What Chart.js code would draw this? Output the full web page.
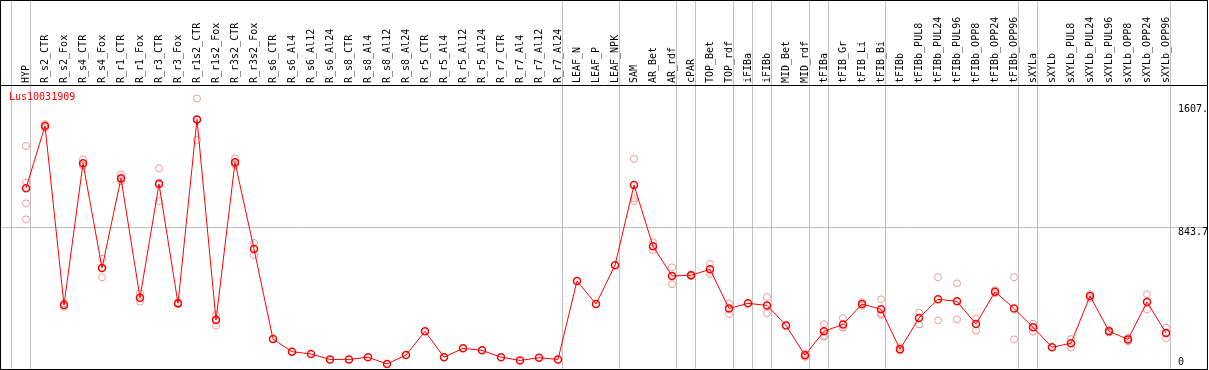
<!DOCTYPE html>
<html>
<head>
<meta charset="utf-8">
<script src="https://cdn.jsdelivr.net/npm/chart.js@4.4.1/dist/chart.umd.min.js"></script>
<style>
  html, body { margin: 0; padding: 0; background: #fff; }
  #frame { position: absolute; left: 0; top: 0; width: 1206px; height: 368px; border: 1px solid #000; }
  canvas { display: block; }
</style>
</head>
<body>
<div id="frame"><canvas id="geneChart" width="1206" height="368"></canvas></div>
<script>
const geneName = 'Lus10031909';

const xLabels = ['HYP', 'R_s2_CTR', 'R_s2_Fox', 'R_s4_CTR', 'R_s4_Fox', 'R_r1_CTR', 'R_r1_Fox',
  'R_r3_CTR', 'R_r3_Fox', 'R_r1s2_CTR', 'R_r1s2_Fox', 'R_r3s2_CTR', 'R_r3s2_Fox',
  'R_s6_CTR', 'R_s6_Al4', 'R_s6_Al12', 'R_s6_Al24', 'R_s8_CTR', 'R_s8_Al4', 'R_s8_Al12', 'R_s8_Al24',
  'R_r5_CTR', 'R_r5_Al4', 'R_r5_Al12', 'R_r5_Al24', 'R_r7_CTR', 'R_r7_Al4', 'R_r7_Al12', 'R_r7_Al24',
  'LEAF_N', 'LEAF_P', 'LEAF_NPK', 'SAM', 'AR_Bet', 'AR_rdf', 'cPAR', 'TOP_Bet', 'TOP_rdf',
  'iFIBa', 'iFIBb', 'MID_Bet', 'MID_rdf', 'tFIBa', 'tFIB_Gr', 'tFIB_Li', 'tFIB_Bi',
  'tFIBb', 'tFIBb_PUL8', 'tFIBb_PUL24', 'tFIBb_PUL96', 'tFIBb_OPP8', 'tFIBb_OPP24', 'tFIBb_OPP96',
  'sXYLa', 'sXYLb', 'sXYLb_PUL8', 'sXYLb_PUL24', 'sXYLb_PUL96', 'sXYLb_OPP8', 'sXYLb_OPP24', 'sXYLb_OPP96'];

// mean expression per sample
const means = [1074, 1444, 380, 1222, 600, 1133, 424, 1099, 390, 1483, 291, 1228, 713,
  178, 103, 89, 57, 57, 70, 30, 83,
  224, 70, 123, 111, 70, 51, 67, 57,
  523, 386, 616, 1093, 729, 553, 557, 592, 360,
  390, 378, 259, 81, 224, 265, 386, 355,
  117, 303, 414, 402, 267, 459, 360,
  248, 129, 153, 434, 224, 176, 398, 214];

// individual replicates per sample
const replicates = [
  [1325, 1107, 984, 889], [1455, 1433], [370, 390], [1246, 1210, 1210], [655, 545, 600],
  [1157, 1127, 1115], [450, 400], [1192, 998, 1107], [394, 384], [1607, 1361, 1480],
  [321, 257, 295], [1252, 1212, 1220], [749, 677],
  [], [], [], [], [], [], [], [],
  [], [], [], [], [], [], [], [],
  [], [], [], [1248, 1014, 998], [753, 707], [604, 503, 553], [562, 552], [624, 564], [390, 327],
  [], [428, 331], [], [90, 72], [267, 198, 192], [303, 246, 246], [396, 376], [414, 321, 330],
  [130, 110], [335, 265], [545, 289], [509, 295], [301, 228], [468, 450], [545, 176],
  [269, 222], [], [178, 127], [445, 420], [230, 217], [185, 165], [444, 355], [246, 182]];

// grid separators drawn after these sample indices
const groupEnds = [-1, 0, 28, 31, 34, 35, 37, 38, 39, 41, 42, 45, 52, 53, 60];

const yMax = 1687.4;
const yTicks = [0, 843.7, 1607];
const yTickLabels = ['0', '843.7', '1607.'];

const SEP = 0.23;
const monoFont = { family: 'DejaVu Sans Mono', size: 10 };

const meanPoints = means.map((v, i) => ({ x: i, y: v }));
const repPoints = [];
replicates.forEach((list, i) => list.forEach(v => repPoints.push({ x: i, y: v })));

const isGroupEnd = v => groupEnds.includes(Math.round(v - SEP));

const labelPlugin = {
  id: 'labelPlugin',
  afterDraw(chart) {
    const ctx = chart.ctx;
    const area = chart.chartArea;
    const yScale = chart.scales.y;
    ctx.save();
    ctx.font = '10px "DejaVu Sans Mono"';
    ctx.textBaseline = 'middle';
    ctx.textAlign = 'left';
    ctx.fillStyle = '#ff0000';
    ctx.fillText(geneName, 8, area.top + 12);
    ctx.fillStyle = '#000';
    yTicks.forEach((v, i) => {
      let y = yScale.getPixelForValue(v) + 5;
      y = Math.min(Math.max(y, area.top + 24), area.bottom - 7);
      ctx.fillText(yTickLabels[i], 1177, y);
    });
    ctx.restore();
  }
};

const geneCtx = document.getElementById('geneChart').getContext('2d');
new Chart(geneCtx, {
  type: 'line',
  data: {
    datasets: [{
      label: 'mean',
      data: meanPoints,
      borderColor: '#ff0000',
      borderWidth: 1,
      pointStyle: 'circle',
      pointRadius: 3.5,
      pointBorderWidth: 1.5,
      pointBorderColor: '#ff0000',
      pointBackgroundColor: 'rgba(0,0,0,0)',
      tension: 0
    }, {
      label: 'replicates',
      data: repPoints,
      showLine: false,
      pointStyle: 'circle',
      pointRadius: 3.5,
      pointBorderWidth: 1,
      pointBorderColor: '#f09a9a',
      pointBackgroundColor: 'rgba(0,0,0,0)'
    }]
  },
  options: {
    responsive: false,
    animation: false,
    layout: { padding: 0, autoPadding: false },
    plugins: { legend: { display: false }, tooltip: { enabled: false } },
    scales: {
      x: {
        type: 'linear',
        position: 'top',
        bounds: 'data',
        min: -25 / 19,
        max: 60 + 41 / 19,
        afterBuildTicks: s => {
          s.ticks = [];
          for (let i = -1; i < xLabels.length; i++) s.ticks.push({ value: i + SEP });
        },
        afterFit: s => {
          s.height = 84;
          s.paddingLeft = 0;
          s.paddingRight = 0;
        },
        grid: {
          color: c => (c.tick && isGroupEnd(c.tick.value)) ? '#c0c0c0' : 'rgba(0,0,0,0)',
          lineWidth: 1,
          drawTicks: true,
          tickLength: 84
        },
        border: { display: true, color: '#000', width: 1 },
        ticks: {
          autoSkip: false,
          maxRotation: 90,
          minRotation: 90,
          padding: -82,
          labelOffset: 8,
          color: '#000',
          font: monoFont,
          callback: v => xLabels[Math.round(v - SEP)] || ''
        }
      },
      y: {
        type: 'linear',
        position: 'right',
        min: 0,
        max: yMax,
        afterBuildTicks: s => { s.ticks = yTicks.map(v => ({ value: v })); },
        afterFit: s => { s.width = 0; },
        grid: {
          color: c => c.tick.value === 843.7 ? '#c0c0c0' : 'rgba(0,0,0,0)',
          drawTicks: false
        },
        border: { display: false },
        ticks: { display: false }
      }
    }
  },
  plugins: [labelPlugin]
});
</script>
</body>
</html>
